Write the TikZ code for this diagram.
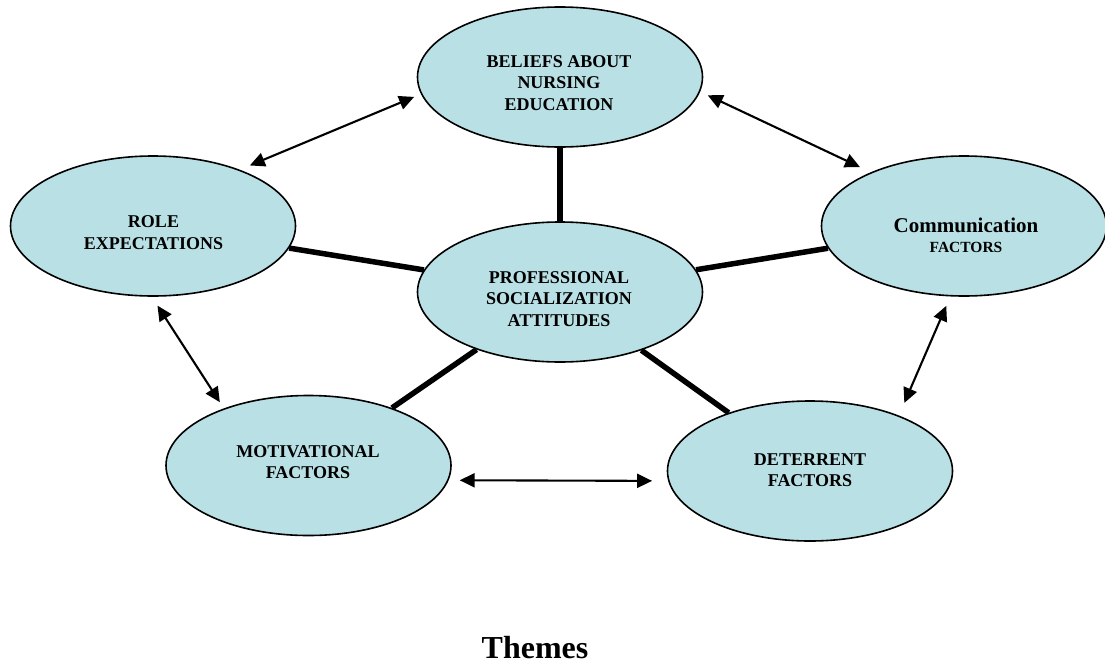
\documentclass[tikz,border=0pt]{standalone}
\usepackage{fontspec}
\setmainfont{Liberation Serif}
\usetikzlibrary{shapes.geometric,arrows.meta}
\definecolor{bub}{RGB}{185,224,229}
\tikzset{
 bubble/.style={ellipse, draw=black, line width=1.6pt, fill=bub, minimum width=285pt, minimum height=140pt, inner sep=0pt},
 lbl/.style={inner sep=0pt, align=center, font=\bfseries\fontsize{18}{21.5}\selectfont},
 spoke/.style={line width=5.5pt},
 link/.style={line width=2.1pt, {Triangle[length=15pt,width=14pt]}-{Triangle[length=15pt,width=14pt]}},
}
\begin{document}
\begin{tikzpicture}[x=1pt,y=-1pt]
\useasboundingbox (0,0) rectangle (1105,664);
\node[bubble] (t) at (560,77) {};
\node[bubble] (c) at (560,292) {};
\node[bubble] (l) at (153,226) {};
\node[bubble] (r) at (964,226) {};
\node[bubble] (bl) at (308.5,465.5) {};
\node[bubble] (br) at (810,471) {};
\draw[spoke] (c) -- (t);
\draw[spoke] (c) -- (l);
\draw[spoke] (c) -- (r);
\draw[spoke] (c) -- (bl);
\draw[spoke] (c) -- (br);
\draw[link, shorten <=10.9pt, shorten >=7.4pt] (l.33) -- (t.187.1);
\draw[link, shorten <=8.3pt, shorten >=12pt] (t.-6.8) -- (r.150.4);
\draw[link, shorten <=10.5pt, shorten >=7.3pt] (l.-91.5) -- (bl.146.3);
\draw[link, shorten <=10.2pt, shorten >=13.7pt] (r.259.3) -- (br.32.2);
\draw[link, shorten <=11pt, shorten >=16pt] (bl.-6.8) -- (br.184.5);
\node[lbl] (tt) at (559,83) {BELIEFS ABOUT\\NURSING\\EDUCATION};
\node[lbl] (ct) at (559,299) {PROFESSIONAL\\SOCIALIZATION\\ATTITUDES};
\node[lbl] (lt) at (153.5,232.5) {ROLE\\EXPECTATIONS};
\node[lbl, font=\bfseries\fontsize{21}{20}\selectfont] (rt) at (966,235.5) {Communication\\{\fontsize{15.5}{20}\selectfont FACTORS}};
\node[lbl] (blt) at (308,462) {MOTIVATIONAL\\FACTORS};
\node[lbl] (brt) at (810,470) {DETERRENT\\FACTORS};
\node[inner sep=0pt, anchor=base, font=\bfseries\fontsize{32}{36}\selectfont] (th) at (535,658) {Themes};
\end{tikzpicture}
\end{document}
